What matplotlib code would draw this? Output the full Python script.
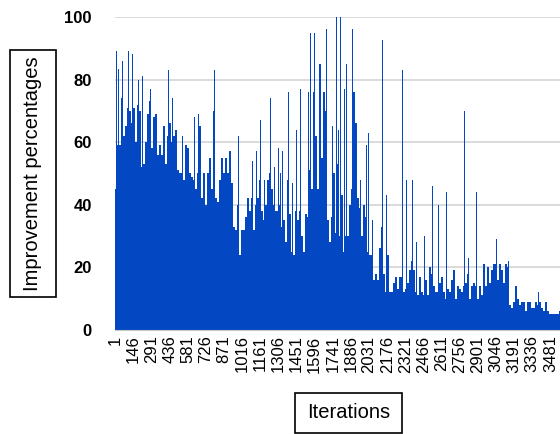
import numpy as np
import matplotlib
matplotlib.use('Agg')
import matplotlib.pyplot as plt
from matplotlib import font_manager
from matplotlib.patches import Rectangle

# base level of the improvement, one value per group of 16 iterations
base_vals = [45, 59, 59, 74, 62, 65, 71, 70, 66, 71,
             60, 72, 70, 52, 53, 60, 69, 73, 58, 68,
             69, 56, 59, 56, 65, 53, 62, 66, 60, 62,
             64, 51, 50, 50, 48, 59, 58, 50, 49, 48,
             45, 50, 65, 42, 50, 40, 50, 55, 45, 70,
             42, 41, 48, 55, 50, 55, 50, 57, 47, 33,
             32, 40, 24, 32, 32, 36, 42, 38, 42, 32,
             40, 42, 48, 38, 35, 40, 48, 50, 45, 40,
             38, 38, 40, 33, 35, 28, 48, 37, 25, 24,
             38, 35, 38, 30, 25, 37, 36, 51, 45, 76,
             62, 45, 85, 55, 76, 70, 35, 28, 36, 50,
             31, 53, 30, 43, 25, 30, 30, 40, 45, 76,
             66, 42, 39, 30, 40, 36, 25, 24, 24, 16,
             18, 16, 26, 33, 18, 12, 24, 12, 12, 15,
             17, 13, 17, 17, 12, 13, 15, 19, 22, 19,
             12, 11, 17, 12, 11, 16, 11, 20, 18, 14,
             12, 12, 15, 17, 12, 10, 13, 12, 16, 19,
             10, 14, 13, 12, 14, 15, 18, 10, 14, 15,
             14, 10, 14, 11, 21, 14, 20, 15, 19, 21,
             21, 16, 21, 19, 15, 21, 20, 8, 7, 9,
             14, 10, 8, 9, 9, 6, 9, 9, 7, 7,
             9, 8, 9, 7, 6, 9, 6, 5, 5, 5,
             5, 5, 6]
block = 16

# single iterations that stand out above the base
spike_iter = [9, 25, 57, 105, 137, 185, 217, 281, 425, 457, 537, 633, 665, 793,
              985, 1097, 1129, 1161, 1193, 1241, 1273, 1305, 1321, 1337, 1385,
              1417, 1449, 1481, 1545, 1561, 1593, 1689, 1737, 1769, 1785, 1801,
              1833, 1849, 1897, 1961, 2009, 2025, 2057, 2137, 2169, 2297, 2329,
              2377, 2409, 2473, 2537, 2585, 2649, 2793, 2825, 2889, 3049, 3145,
              3385]
spike_vals = [89, 83.5, 86, 89, 88, 80, 81, 77, 83, 74, 62, 68, 69, 83,
              62, 54, 57, 67, 48, 74, 52, 58, 50, 57, 76,
              47, 64, 77, 76, 95, 95, 96, 65, 100, 64, 100,
              77, 85, 96, 48, 59, 63, 35, 92.5, 43, 83, 48,
              48, 28, 30, 46, 40, 44, 70, 23, 44, 29, 22,
              12]

tick_labels = [1, 146, 291, 436, 581, 726, 871, 1016, 1161, 1306, 1451, 1596,
               1741, 1886, 2031, 2176, 2321, 2466, 2611, 2756, 2901, 3046, 3191,
               3336, 3481]
y_ticks = [0, 20, 40, 60, 80, 100]

names = {f.name for f in font_manager.fontManager.ttflist}
narrow = 'Liberation Sans Narrow' if 'Liberation Sans Narrow' in names else 'Liberation Sans'
plt.rcParams['font.family'] = ['Liberation Sans', 'DejaVu Sans']

blue = '#0347c3'
W, H = 560, 434
fig = plt.figure(figsize=(5.6, 4.34), dpi=100)
ax = fig.add_axes([0.206, 0.240, 0.794, 0.721])

starts = np.arange(len(base_vals)) * block + 1
ax.bar(starts, base_vals, width=block, align='edge', color=blue, linewidth=0)
ax.bar(spike_iter, spike_vals, width=6, align='center', color=blue, linewidth=0)

ax.set_xlim(1, 3558)
ax.set_ylim(0, 100)
ax.set_yticks(y_ticks)
ax.set_yticklabels([str(v) for v in y_ticks], fontsize=12, fontweight='bold')
ax.set_xticks(tick_labels)
ax.set_xticklabels([str(v) for v in tick_labels], rotation=90, fontsize=12)
ax.tick_params(axis='both', length=0)
ax.tick_params(axis='y', pad=17)
ax.tick_params(axis='x', pad=4)
ax.yaxis.grid(True, color='#d4d4d4', linewidth=1.2)
ax.set_axisbelow(True)
for s in ['top', 'right', 'left']:
    ax.spines[s].set_visible(False)
ax.spines['bottom'].set_color('#c8c8c8')

lab_size = 17 if narrow != 'Liberation Sans' else 14.5

# boxes round the axis titles
fig.patches.append(Rectangle((9.5 / W, 1 - 297 / H), 46 / W, 247 / H,
                             transform=fig.transFigure, fill=False,
                             ec='black', lw=1.2))
fig.patches.append(Rectangle((295 / W, 1 - 433 / H), 107 / W, 40 / H,
                             transform=fig.transFigure, fill=False,
                             ec='black', lw=1.2))
fig.text(33 / W, 1 - 174 / H, 'Improvement percentages', rotation=90,
         ha='center', va='center', fontsize=lab_size, family=narrow)
fig.text(348.5 / W, 1 - 413 / H, 'Iterations', ha='center', va='center',
         fontsize=lab_size, family=narrow)

fig.savefig('out.png', dpi=100)
